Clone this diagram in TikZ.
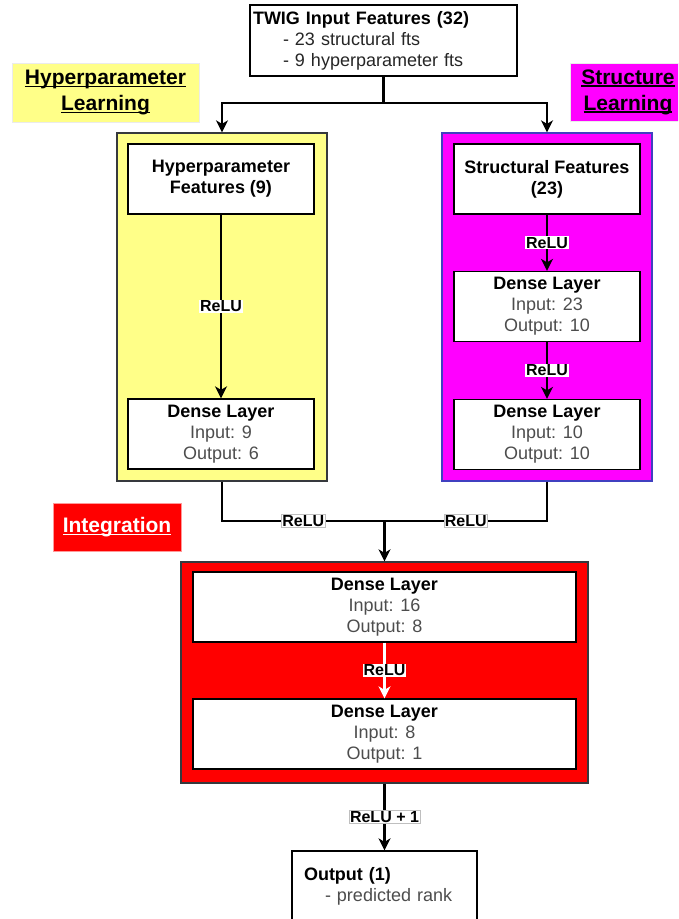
\documentclass[tikz,border=0pt]{standalone}
\usepackage{fontspec}
\setmainfont{Liberation Sans}
\usetikzlibrary{arrows.meta}
\definecolor{hyy}{HTML}{FFFF88}
\definecolor{mag}{HTML}{FF00FF}
\definecolor{rd}{HTML}{FF0000}
\definecolor{txtgray}{HTML}{4D4D4D}
\definecolor{bord}{HTML}{36393D}
\definecolor{magbord}{HTML}{4040C0}
\newcommand\ulx[1]{\setbox0=\hbox{#1}\rlap{\rule[-2.6pt]{\wd0}{1.3pt}}\box0}
\newcommand\gr[1]{{\mdseries\color{txtgray}#1}}
\begin{document}
\begin{tikzpicture}[x=1pt,y=-1pt,
  box/.style={draw=black, line width=1.3pt, fill=white, minimum width=186pt, minimum height=70pt, inner sep=0pt, align=center, font=\fontsize{18}{21}\selectfont\bfseries},
  cont/.style={draw=bord, line width=1.3pt, inner sep=0pt},
  tag/.style={inner sep=0pt, align=center, font=\fontsize{21}{26}\selectfont\bfseries},
  arr/.style={line width=2.2pt, -{Stealth[length=12pt,width=12pt,inset=3.5pt]}},
  ln/.style={line width=2.2pt},
  lbl/.style={fill=white, inner sep=1pt, text=black, font=\fontsize{16}{18}\selectfont\bfseries},
  lblb/.style={lbl, draw=black!25, line width=0.6pt},
]
\useasboundingbox (0,0) rectangle (678,919);
\clip (0,0) rectangle (678,919);
\fill[white] (0,0) rectangle (678,919);

% section tags
\node[tag, fill=hyy, draw=black!8, minimum width=187pt, minimum height=59pt] (tagh) at (105.5,92.5) {\ulx{Hyperparameter}\\\ulx{Learning}};
\node[tag, fill=mag, draw=black!8, minimum width=116pt, minimum height=58pt] (tags) at (628,92) {\ulx{Structure}\\\ulx{Learning}};
\node[tag, fill=rd, draw=rd!40, text=white, minimum width=128pt, minimum height=48pt] (tagi) at (117,527) {\ulx{Integration}};

% containers
\node[cont, fill=hyy, minimum width=210pt, minimum height=348pt] (yc) at (222,307) {};
\node[cont, fill=mag, draw=magbord, minimum width=210pt, minimum height=348pt] (mc) at (547,307) {};
\node[cont, fill=rd, minimum width=407pt, minimum height=221pt] (rc) at (384.5,672.5) {};

% input
\node[box, minimum width=267pt, minimum height=71pt, text width=261pt, inner xsep=3pt, align=left, font=\fontsize{18}{21}\selectfont] (twig) at (383.5,40.5)
  {\textbf{TWIG Input Features (32)}\\\hspace*{30pt}{\color{black!85}- 23 structural fts}\\\hspace*{30pt}{\color{black!85}- 9 hyperparameter fts}};

% hyperparameter branch
\node[box] (hf) at (221,179) {Hyperparameter\\Features (9)};
\node[box] (hd) at (221,434) {Dense Layer\\\gr{Input: 9}\\\gr{Output: 6}};

% structure branch
\node[box] (sf) at (547,179) {Structural Features\\(23)};
\node[box] (sd1) at (547,306.5) {Dense Layer\\\gr{Input: 23}\\\gr{Output: 10}};
\node[box] (sd2) at (547,434.5) {Dense Layer\\\gr{Input: 10}\\\gr{Output: 10}};

% integration
\node[box, minimum width=383pt] (id1) at (384.5,607) {Dense Layer\\\gr{Input: 16}\\\gr{Output: 8}};
\node[box, minimum width=383pt] (id2) at (384.5,734) {Dense Layer\\\gr{Input: 8}\\\gr{Output: 1}};

% output
\node[box, minimum width=185pt, text width=161pt, inner xsep=12pt, align=left, font=\fontsize{18}{21}\selectfont] (out) at (384.5,886)
  {\textbf{Output (1)}\\\hspace*{21pt}{\color{txtgray}- predicted rank}};

% connectors
\coordinate (split) at (383.5,103);
\coordinate (merge) at (384.5,521);
\draw[ln] (twig.south) -- (split);
\draw[arr] (split) -| (yc.north);
\draw[arr] (split) -| (mc.north);

\draw[arr] (hf) -- node[lbl] {ReLU} (hd);
\draw[arr] (sf) -- node[lbl] {ReLU} (sd1);
\draw[arr] (sd1) -- node[lbl] {ReLU} (sd2);

\draw[ln] (yc.south) |- node[lblb, pos=0.75] {ReLU} (merge);
\draw[ln] (mc.south) |- node[lblb, pos=0.75] {ReLU} (merge);
\draw[arr] (merge) -- (rc.north);

\draw[arr, draw=white] (id1) -- node[lbl] {ReLU} (id2);
\draw[arr] (rc.south) -- node[lblb] {ReLU + 1} (out.north);
\end{tikzpicture}
\end{document}
